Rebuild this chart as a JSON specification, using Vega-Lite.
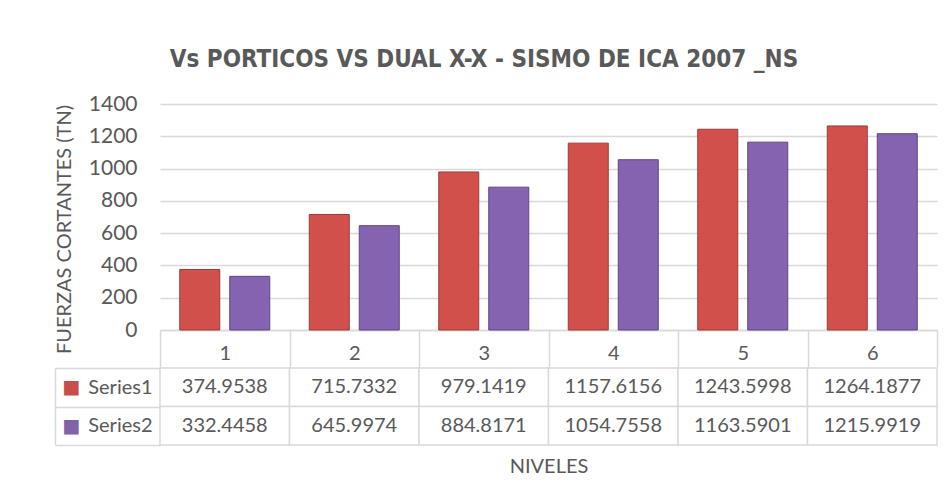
{
  "$schema": "https://vega.github.io/schema/vega-lite/v6.json",
  "background": "white",
  "padding": {"left": 54, "top": 48, "right": 10, "bottom": 10},
  "title": {
    "text": "Vs  PORTICOS VS DUAL X-X - SISMO DE ICA 2007 _NS",
    "font": "DejaVu Sans Condensed",
    "fontWeight": "bold",
    "fontSize": 24,
    "color": "#595959",
    "anchor": "middle",
    "offset": 21,
    "dx": -12
  },
  "datasets": {
    "t": [
      {"nivel": "1", "serie": "Series1", "valor": 374.9538},
      {"nivel": "2", "serie": "Series1", "valor": 715.7332},
      {"nivel": "3", "serie": "Series1", "valor": 979.1419},
      {"nivel": "4", "serie": "Series1", "valor": 1157.6156},
      {"nivel": "5", "serie": "Series1", "valor": 1243.5998},
      {"nivel": "6", "serie": "Series1", "valor": 1264.1877},
      {"nivel": "1", "serie": "Series2", "valor": 332.4458},
      {"nivel": "2", "serie": "Series2", "valor": 645.9974},
      {"nivel": "3", "serie": "Series2", "valor": 884.8171},
      {"nivel": "4", "serie": "Series2", "valor": 1054.7558},
      {"nivel": "5", "serie": "Series2", "valor": 1163.5901},
      {"nivel": "6", "serie": "Series2", "valor": 1215.9919}
    ]
  },
  "spacing": -12,
  "vconcat": [
    {
      "width": 777,
      "height": 226,
      "data": {"name": "t"},
      "mark": {"type": "bar", "strokeWidth": 1},
      "encoding": {
        "x": {
          "field": "nivel",
          "type": "nominal",
          "scale": {"paddingInner": 0, "paddingOuter": 0},
          "axis": {
            "orient": "bottom",
            "title": null,
            "domain": true,
            "domainColor": "#d9d9d9",
            "domainWidth": 1.5,
            "ticks": true,
            "tickBand": "extent",
            "tickSize": 37,
            "tickColor": "#d9d9d9",
            "tickWidth": 1.5,
            "labelAngle": 0,
            "labelFont": "Lato",
            "labelFontSize": 20,
            "labelColor": "#595959",
            "labelPadding": -24
          }
        },
        "xOffset": {
          "field": "serie",
          "type": "nominal",
          "scale": {"paddingInner": 0.2, "paddingOuter": 0.395}
        },
        "y": {
          "field": "valor",
          "type": "quantitative",
          "scale": {"domain": [0, 1400]},
          "axis": {
            "values": [0, 200, 400, 600, 800, 1000, 1200, 1400],
            "format": "d",
            "domain": false,
            "ticks": false,
            "grid": true,
            "gridColor": "#d9d9d9",
            "gridWidth": 1.5,
            "labelPadding": 23,
            "labelFont": "Lato",
            "labelFontSize": 21,
            "labelColor": "#595959",
            "title": "FUERZAS CORTANTES (TN)",
            "titleFont": "Lato",
            "titleFontSize": 20,
            "titleFontWeight": "normal",
            "titleColor": "#595959",
            "titlePadding": 14,
            "titleY": 125
          }
        },
        "color": {
          "field": "serie",
          "type": "nominal",
          "scale": {"domain": ["Series1", "Series2"], "range": ["#D2504C", "#8563B0"]},
          "legend": null
        },
        "stroke": {
          "field": "serie",
          "type": "nominal",
          "scale": {"domain": ["Series1", "Series2"], "range": ["#9c3b38", "#5e4483"]},
          "legend": null
        }
      }
    },
    {
      "width": 777,
      "height": 77,
      "data": {"name": "t"},
      "layer": [
        {
          "mark": {"type": "rect", "fill": "white", "stroke": "#d9d9d9", "strokeWidth": 1.5},
          "encoding": {
            "x": {
              "field": "nivel",
              "type": "nominal",
              "scale": {"type": "band", "paddingInner": 0, "paddingOuter": 0},
              "axis": {
                "orient": "bottom",
                "labels": false,
                "ticks": false,
                "domain": false,
                "grid": false,
                "title": "NIVELES",
                "titleFont": "Lato",
                "titleFontSize": 20,
                "titleFontWeight": "normal",
                "titleColor": "#595959",
                "titlePadding": 11
              }
            },
            "y": {
              "field": "serie",
              "type": "nominal",
              "scale": {"type": "band", "paddingInner": 0, "paddingOuter": 0},
              "axis": {
                "orient": "left",
                "title": null,
                "domain": false,
                "grid": false,
                "ticks": true,
                "tickBand": "extent",
                "tickSize": 105,
                "tickColor": "#d9d9d9",
                "tickWidth": 1.5,
                "labelPadding": -97,
                "labelFont": "Lato",
                "labelFontSize": 20,
                "labelColor": "#595959"
              }
            }
          }
        },
        {
          "mark": {"type": "text", "font": "Lato", "fontSize": 20, "color": "#595959"},
          "encoding": {
            "x": {
              "field": "nivel",
              "type": "nominal",
              "axis": {
                "orient": "bottom",
                "labels": false,
                "ticks": false,
                "domain": false,
                "grid": false,
                "title": "NIVELES",
                "titleFont": "Lato",
                "titleFontSize": 20,
                "titleFontWeight": "normal",
                "titleColor": "#595959",
                "titlePadding": 11
              }
            },
            "y": {
              "field": "serie",
              "type": "nominal",
              "scale": {"type": "band", "paddingInner": 0, "paddingOuter": 0},
              "axis": {
                "orient": "left",
                "offset": 105,
                "title": null,
                "grid": false,
                "domain": true,
                "domainColor": "#d9d9d9",
                "domainWidth": 1.5,
                "ticks": false,
                "labelExpr": "'■'",
                "labelFont": "DejaVu Sans",
                "labelFontSize": 19,
                "labelPadding": -25,
                "labelColor": {"condition": {"test": "datum.value === 'Series1'", "value": "#C94C4A"}, "value": "#8062A8"}
              }
            },
            "text": {"field": "valor", "type": "quantitative", "format": ".4f"}
          }
        }
      ],
      "resolve": {"scale": {"y": "independent"}, "axis": {"y": "independent"}}
    }
  ],
  "config": {"view": {"stroke": null}}
}
